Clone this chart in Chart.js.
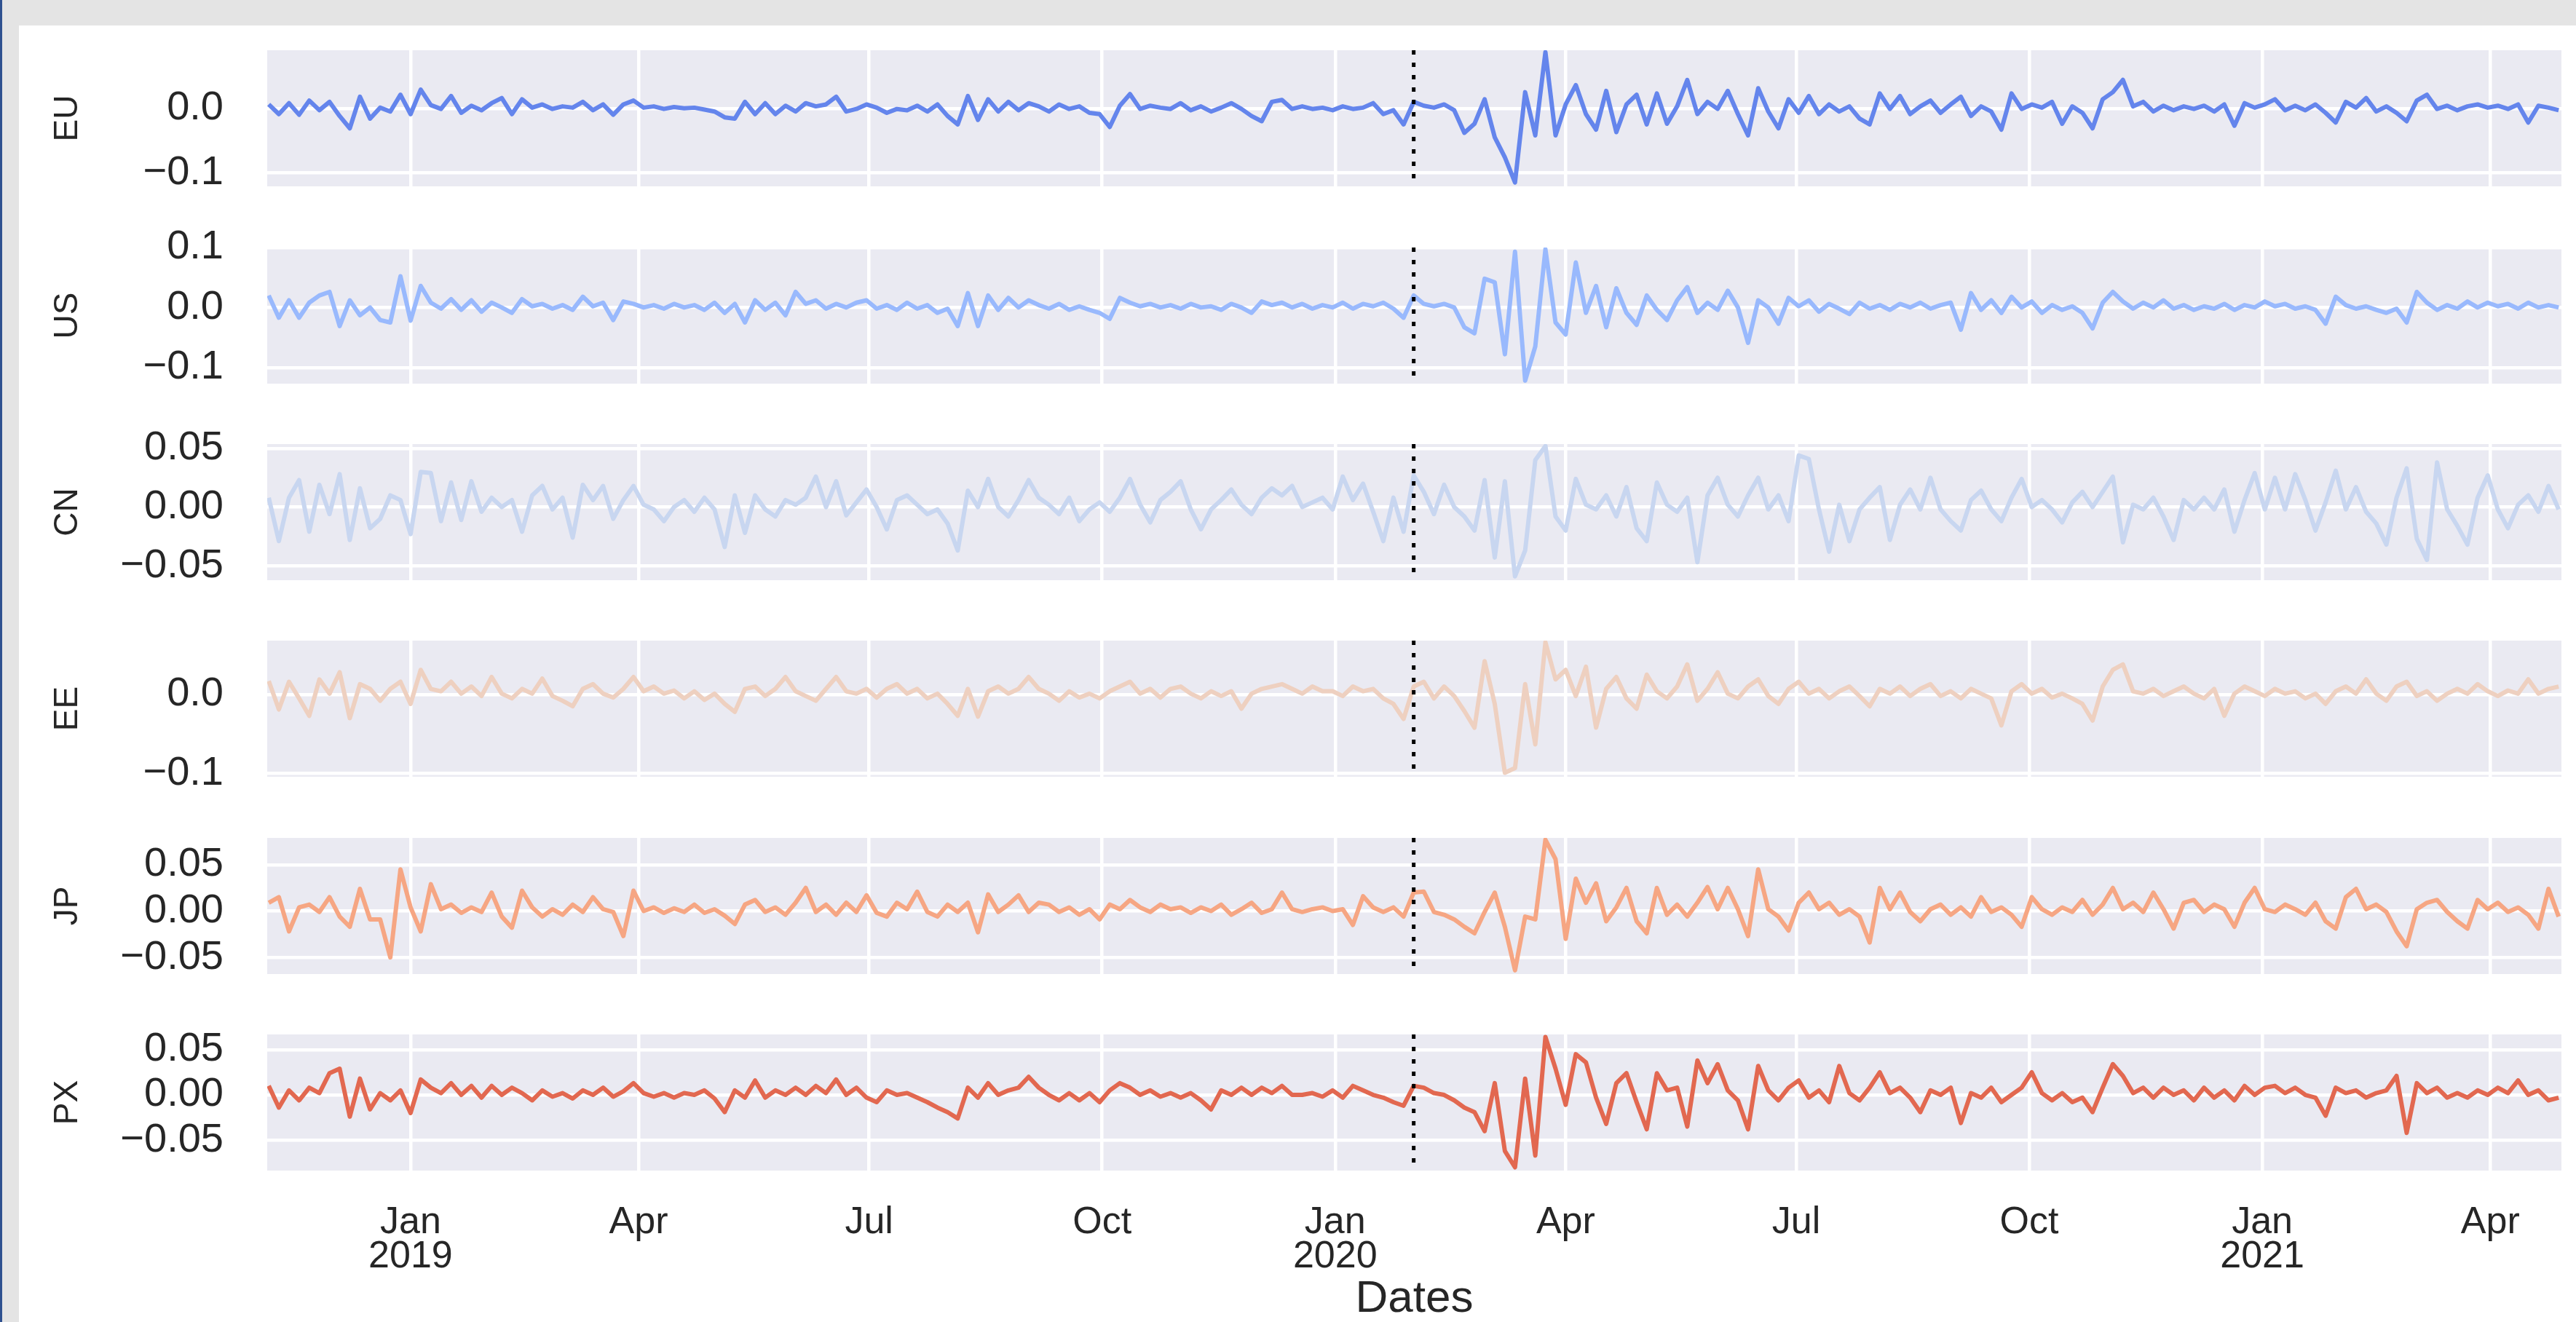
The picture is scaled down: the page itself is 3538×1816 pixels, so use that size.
<!DOCTYPE html>
<html>
<head>
<meta charset="utf-8">
<script src="https://cdn.jsdelivr.net/npm/chart.js"></script>
<style>
html, body { margin: 0; padding: 0; background: #fff; }
#frame { position: relative; width: 3538px; height: 1816px; background: #e4e4e4; overflow: hidden; }
#edge { position: absolute; left: 0; top: 0; width: 3px; height: 1816px; background: #2f5190; }
#paper { position: absolute; left: 26px; top: 35px; right: 0; bottom: 0; background: #fff; }
</style>
</head>
<body>
<div id="frame"><div id="edge"></div><div id="paper"></div></div>
<script>
// sampling of the series: one value every 4 days from 6 Nov 2018
const startDate = '2018-11-06';
const stepDays = 4;
const breakDate = '2020-02-01';

const monthTickDates = ['2019-01-01', '2019-04-01', '2019-07-01', '2019-10-01', '2020-01-01',
  '2020-04-01', '2020-07-01', '2020-10-01', '2021-01-01', '2021-04-01'];
const monthTickLabels = [['Jan', '2019'], 'Apr', 'Jul', 'Oct', ['Jan', '2020'],
  'Apr', 'Jul', 'Oct', ['Jan', '2021'], 'Apr'];
const xRangeDates = ['2018-11-05', '2021-04-29'];

const euValues = [
  .006,-.009,.008,-.01,.012,-.003,.01,-.012,-.031,.018,
  -.016,.001,-.005,.021,-.009,.029,.005,-.001,.019,-.007,
  .004,-.003,.008,.016,-.009,.014,.001,.006,-.001,.003,
  .001,.01,-.003,.006,-.01,.006,.012,.001,.003,-.001,
  .002,0,.001,-.002,-.005,-.014,-.016,.01,-.009,.008,
  -.009,.004,-.005,.008,.003,.006,.018,-.005,-.001,.006,
  .001,-.007,-.001,-.003,.004,-.005,.006,-.012,-.025,.019,
  -.018,.014,-.005,.01,-.003,.008,.003,-.005,.006,-.001,
  .003,-.007,-.009,-.029,.004,.022,-.001,.004,.001,-.001,
  .008,-.003,.003,-.005,.001,.008,-.001,-.012,-.02,.01,
  .013,-.001,.003,-.001,.001,-.003,.003,-.001,.001,.008,
  -.009,-.003,-.025,.01,
  .004,.001,.006,-.003,-.038,-.024,
  .014,-.045,-.076,-.115,.025,-.042,.087,-.042,.006,.036,
  -.009,-.033,.027,-.037,.006,.021,-.025,.023,-.024,.003,
  .044,-.009,.01,-.001,.027,-.009,-.042,.031,-.005,-.031,
  .014,-.007,.019,-.009,.006,-.005,.003,-.016,-.025,.023,
  -.001,.019,-.009,.003,.012,-.007,.006,.018,-.012,.003,
  -.005,-.033,.023,-.001,.006,.001,.01,-.024,.003,-.007,
  -.031,.014,.025,.044,.003,.01,-.005,.004,-.003,.003,
  -.001,.004,-.005,.006,-.027,.008,.001,.006,.014,-.003,
  .004,-.003,.006,-.007,-.022,.01,.001,.016,-.005,.003,
  -.007,-.02,.012,.021,-.001,.004,-.003,.003,.006,.001,
  .004,-.001,.006,-.022,.004,.001,-.003
];
const usValues = [
  .02,-.017,.012,-.017,.008,.02,.026,-.031,.012,-.013,
  0,-.021,-.025,.052,-.022,.036,.008,-.002,.014,-.004,
  .012,-.007,.008,0,-.009,.014,.002,.006,-.002,.004,
  -.004,.018,.002,.008,-.021,.01,.006,0,.004,-.002,
  .006,0,.004,-.004,.008,-.009,.006,-.025,.012,-.004,
  .008,-.013,.026,.006,.012,-.002,.006,0,.008,.012,
  -.002,.004,-.004,.008,-.002,.004,-.009,-.002,-.031,.024,
  -.031,.02,-.004,.016,0,.012,.004,-.002,.006,-.004,
  .002,-.004,-.009,-.019,.016,.008,.002,.006,0,.004,
  -.002,.006,0,.002,-.004,.006,0,-.009,.01,.004,
  .008,0,.006,-.002,.004,0,.008,-.002,.006,.002,
  .008,-.002,-.017,.02,
  .006,.002,.006,0,-.033,-.043,
  .048,.042,-.078,.093,-.122,-.065,.097,-.025,-.045,.075,
  -.009,.036,-.033,.032,-.009,-.029,.02,-.004,-.021,.012,
  .034,-.009,.008,-.004,.028,0,-.059,.012,0,-.027,
  .016,.002,.012,-.007,.006,-.002,-.011,.008,-.002,.004,
  -.004,.006,0,.008,-.002,.004,.008,-.037,.024,-.004,
  .012,-.009,.018,0,.01,-.009,.004,-.004,.002,-.009,
  -.035,.008,.026,.01,-.002,.008,0,.012,-.002,.004,
  -.004,.002,-.002,.006,-.004,.004,0,.01,.002,.006,
  -.002,.002,-.004,-.027,.018,.004,-.002,.002,-.004,-.009,
  -.002,-.025,.026,.008,-.004,.004,-.002,.01,0,.008,
  .002,.006,-.002,.008,0,.004,0
];
const cnValues = [
  .008,-.029,.008,.023,-.021,.019,-.006,.028,-.028,.016,
  -.018,-.01,.01,.006,-.023,.03,.029,-.012,.021,-.011,
  .022,-.004,.008,0,.006,-.021,.01,.018,-.002,.008,
  -.026,.019,.006,.018,-.01,.006,.018,.002,-.002,-.012,
  0,.006,-.004,.008,-.002,-.034,.01,-.022,.01,-.002,
  -.008,.006,.002,.008,.026,0,.022,-.007,.004,.015,
  0,-.019,.006,.01,.002,-.006,-.002,-.014,-.037,.014,
  0,.024,0,-.008,.006,.023,.008,.002,-.006,.008,
  -.012,-.002,.004,-.004,.008,.024,.002,-.013,.006,.013,
  .022,-.002,-.019,-.002,.006,.015,.002,-.006,.008,.016,
  .01,.018,0,.004,.008,-.002,.026,.006,.02,-.004,
  -.029,.008,-.021,.027,
  .013,-.006,.019,0,-.008,-.02,
  .023,-.043,.022,-.059,-.037,.04,.052,-.008,-.02,.024,
  .002,-.002,.01,-.008,.017,-.018,-.029,.021,.002,-.004,
  .008,-.047,.01,.025,.002,-.008,.01,.025,-.002,.01,
  -.012,.044,.041,-.002,-.038,.002,-.029,-.002,.008,.017,
  -.028,.002,.015,-.002,.025,-.002,-.012,-.02,.006,.014,
  -.002,-.012,.008,.024,0,.006,-.002,-.013,.004,.013,
  0,.013,.026,-.03,.002,-.002,.008,-.008,-.028,.006,
  -.002,.008,-.002,.015,-.021,.006,.029,-.002,.025,-.002,
  .028,.006,-.02,.004,.031,-.002,.017,-.004,-.014,-.032,
  .008,.033,-.027,-.045,.038,-.002,-.016,-.032,.008,.027,
  -.002,-.018,.002,.01,-.004,.018,-.002
];
const eeValues = [
  .017,-.019,.016,-.005,-.027,.019,.001,.028,-.03,.013,
  .007,-.008,.007,.016,-.012,.031,.007,.004,.016,.001,
  .01,-.002,.022,.001,-.005,.007,.001,.02,-.002,-.008,
  -.015,.007,.013,.001,-.004,.007,.022,.004,.01,.001,
  .005,-.005,.004,-.007,.001,-.012,-.022,.007,.01,-.002,
  .007,.022,.004,-.002,-.008,.007,.022,.004,.001,.007,
  -.004,.007,.013,.001,.007,-.005,.001,-.012,-.027,.007,
  -.028,.004,.01,.001,.007,.022,.007,.001,-.008,.004,
  -.004,.001,-.005,.004,.01,.016,.001,.007,-.004,.007,
  .01,.001,-.005,.004,-.002,.004,-.018,.001,.007,.01,
  .013,.007,.001,.01,.004,.004,-.002,.01,.004,.007,
  -.005,-.012,-.031,.01,
  .016,-.005,.01,-.002,-.021,-.042,
  .042,-.012,-.099,-.093,.013,-.063,.066,.019,.031,-.002,
  .035,-.042,.007,.022,-.005,-.018,.025,.004,-.005,.01,
  .038,-.008,.007,.028,.001,-.005,.01,.019,-.002,-.012,
  .007,.016,.001,.007,-.005,.004,.01,-.002,-.015,.007,
  .001,.01,-.002,.007,.013,-.002,.004,-.005,.007,.001,
  -.005,-.039,.004,.013,.001,.007,-.004,.001,-.005,-.012,
  -.033,.01,.031,.038,.004,.001,.007,-.002,.004,.01,
  .001,-.005,.007,-.027,.001,.01,.004,-.002,.007,.001,
  .004,-.005,.001,-.012,.004,.01,.001,.019,.001,-.008,
  .01,.016,-.002,.004,-.008,.001,.007,.001,.013,.004,
  -.002,.005,.001,.019,.001,.007,.01
];
const jpValues = [
  .009,.015,-.022,.004,.007,-.001,.015,-.006,-.017,.024,
  -.009,-.009,-.05,.045,.004,-.022,.029,.002,.007,-.002,
  .004,-.001,.02,-.006,-.018,.022,.004,-.006,.002,-.004,
  .007,-.001,.015,.002,-.001,-.027,.022,0,.004,-.002,
  .003,-.001,.007,-.002,.002,-.005,-.014,.007,.012,-.001,
  .004,-.004,.009,.025,-.001,.007,-.004,.009,-.001,.017,
  -.002,-.006,.009,.002,.021,-.001,-.006,.007,-.001,.009,
  -.023,.018,-.001,.007,.017,-.001,.009,.007,-.001,.004,
  -.004,.002,-.009,.007,.002,.012,.004,-.001,.007,.002,
  .004,-.002,.004,0,.007,-.004,.002,.009,-.002,.002,
  .02,.002,-.001,.002,.004,0,.002,-.015,.016,.004,
  -.001,.004,-.006,.02,
  .021,-.001,-.004,-.009,-.017,-.024,
  -.001,.02,-.017,-.064,-.006,-.009,.077,.056,-.03,.035,
  .009,.03,-.011,.004,.025,-.011,-.024,.025,-.004,.007,
  -.006,.009,.026,.002,.025,.002,-.027,.045,.002,-.006,
  -.021,.009,.02,.002,.009,-.004,.002,-.006,-.034,.025,
  .002,.02,-.001,-.011,.002,.007,-.004,.004,-.006,.015,
  -.001,.004,-.004,-.017,.015,.002,-.004,.004,-.001,.012,
  -.004,.007,.025,.002,.009,-.001,.02,.002,-.019,.009,
  .012,-.001,.007,.002,-.017,.009,.025,.002,-.001,.007,
  .002,-.004,.009,-.011,-.019,.015,.024,.002,.007,-.001,
  -.022,-.038,.002,.009,.012,-.001,-.011,-.019,.012,.002,
  .009,-.001,.004,-.004,-.019,.024,-.006
];
const pxValues = [
  .01,-.014,.005,-.006,.008,.002,.024,.029,-.024,.018,
  -.016,.002,-.006,.005,-.02,.017,.008,.002,.013,0,
  .01,-.003,.01,0,.008,.002,-.006,.005,-.002,.002,
  -.004,.005,0,.008,-.002,.004,.013,.002,-.002,.002,
  -.003,.002,0,.005,-.004,-.019,.005,-.003,.016,-.003,
  .005,0,.008,0,.01,.002,.017,0,.008,-.003,
  -.008,.005,0,.002,-.003,-.008,-.014,-.019,-.026,.008,
  -.003,.013,0,.005,.008,.02,.008,0,-.006,.002,
  -.006,.002,-.008,.005,.013,.008,0,.005,-.002,.002,
  -.003,.002,-.006,-.016,.005,0,.008,0,.008,.002,
  .01,0,0,.002,-.002,.005,-.003,.01,.005,0,
  -.003,-.008,-.012,.01,
  .008,.002,0,-.006,-.014,-.019,
  -.04,.013,-.062,-.08,.018,-.067,.064,.029,-.011,.045,
  .036,-.003,-.032,.013,.024,-.008,-.038,.024,.005,.008,
  -.035,.038,.013,.034,.005,-.006,-.038,.032,.005,-.006,
  .008,.016,-.003,.005,-.008,.032,.002,-.006,.008,.025,
  .002,.008,-.003,-.019,.005,0,.008,-.031,.002,-.003,
  .008,-.008,0,.008,.025,.002,-.006,.002,-.008,-.003,
  -.019,.008,.034,.021,.002,.008,-.003,.008,0,.005,
  -.006,.008,-.003,.005,-.006,.01,0,.008,.01,.002,
  .008,0,-.003,-.023,.008,.002,.005,-.003,.002,.005,
  .021,-.042,.013,.002,.008,-.003,.002,-.003,.005,0,
  .008,.002,.016,0,.005,-.006,-.003
];

// y axis limits and tick labels
const euRange = [-0.121, 0.090], euTicks = [-0.1, 0.0], euTickLabels = ['\u22120.1', '0.0'];
const usRange = [-0.127, 0.100], usTicks = [-0.1, 0.0, 0.1], usTickLabels = ['\u22120.1', '0.0', '0.1'];
const cnRange = [-0.0623, 0.0537], cnTicks = [-0.05, 0, 0.05], cnTickLabels = ['\u22120.05', '0.00', '0.05'];
const eeRange = [-0.104, 0.068], eeTicks = [-0.1, 0.0], eeTickLabels = ['\u22120.1', '0.0'];
const jpRange = [-0.068, 0.079], jpTicks = [-0.05, 0, 0.05], jpTickLabels = ['\u22120.05', '0.00', '0.05'];
const pxRange = [-0.0836, 0.0668], pxTicks = [-0.05, 0, 0.05], pxTickLabels = ['\u22120.05', '0.00', '0.05'];

const panelNames = ['EU', 'US', 'CN', 'EE', 'JP', 'PX'];

// ---------- helpers ----------
const DAY = 86400000;
const origin = Date.UTC(2019, 0, 1);
function dayOf(iso) {
  const [y, m, d] = iso.split('-').map(Number);
  return (Date.UTC(y, m - 1, d) - origin) / DAY;
}
const firstDay = dayOf(startDate);
function toPoints(values) {
  return values.map((v, i) => ({x: firstDay + i * stepDays, y: v}));
}
const breakDay = dayOf(breakDate);
const monthTickDays = monthTickDates.map(dayOf);

const panels = [
  {values: euValues, range: euRange, ticks: euTicks, labels: euTickLabels, color: '#6485ec'},
  {values: usValues, range: usRange, ticks: usTicks, labels: usTickLabels, color: '#99b9fd'},
  {values: cnValues, range: cnRange, ticks: cnTicks, labels: cnTickLabels, color: '#c8d6f0'},
  {values: eeValues, range: eeRange, ticks: eeTicks, labels: eeTickLabels, color: '#eed0c0'},
  {values: jpValues, range: jpRange, ticks: jpTicks, labels: jpTickLabels, color: '#f6a683'},
  {values: pxValues, range: pxRange, ticks: pxTicks, labels: pxTickLabels, color: '#e26850'}
];

// ---------- layout ----------
const canvasLeft = 26, plotLeft = 367, plotRight = 3518, plotHeight = 187, padY = 40;
const panelTops = [69, 340, 610, 880, 1151, 1421];
const gridColor = '#ffffff', gridWidth = 4.5, panelColor = '#eaeaf2', textColor = '#262626';

Chart.defaults.font.family = "'Liberation Sans', Arial, sans-serif";
Chart.defaults.color = textColor;

const panelBg = {
  id: 'panelBg',
  beforeDraw(chart) {
    const {ctx, chartArea: a} = chart;
    ctx.save();
    ctx.fillStyle = panelColor;
    ctx.fillRect(a.left, a.top, a.right - a.left, a.bottom - a.top);
    ctx.restore();
  }
};
const breakLine = {
  id: 'breakLine',
  afterDatasetsDraw(chart) {
    const {ctx, chartArea: a, scales} = chart;
    const x = scales.x.getPixelForValue(breakDay);
    ctx.save();
    ctx.strokeStyle = '#000';
    ctx.lineWidth = 5;
    ctx.setLineDash([6, 11]);
    ctx.beginPath();
    ctx.moveTo(x, a.top);
    ctx.lineTo(x, a.bottom);
    ctx.stroke();
    ctx.restore();
  }
};

const frame = document.getElementById('frame');

panels.forEach((p, k) => {
  const last = k === panels.length - 1;
  const top = panelTops[k] - padY;
  const h = last ? 1816 - top : plotHeight + 2 * padY;
  const cv = document.createElement('canvas');
  cv.width = 3538 - canvasLeft;
  cv.height = h;
  cv.style.cssText = 'position:absolute;left:' + canvasLeft + 'px;top:' + top + 'px;width:' + cv.width + 'px;height:' + h + 'px';
  frame.appendChild(cv);

  new Chart(cv, {
    type: 'line',
    data: {
      datasets: [{
        data: toPoints(p.values),
        borderColor: p.color,
        borderWidth: 6,
        borderJoinStyle: 'round',
        pointRadius: 0,
        tension: 0,
        fill: false
      }]
    },
    options: {
      animation: false,
      responsive: false,
      devicePixelRatio: 1,
      events: [],
      layout: {padding: {top: padY, bottom: last ? 0 : padY, left: 0, right: 3538 - plotRight}},
      plugins: {legend: {display: false}, tooltip: {enabled: false}},
      scales: {
        x: {
          type: 'linear',
          min: dayOf(xRangeDates[0]) + 0.4,
          max: dayOf(xRangeDates[1]) + 0.1,
          afterBuildTicks: s => { s.ticks = monthTickDays.map(v => ({value: v})); },
          afterFit: s => {
            s.height = last ? h - padY - plotHeight : 0;
            s.paddingLeft = 0; s.paddingRight = 0;
          },
          grid: {color: gridColor, lineWidth: gridWidth, drawTicks: false},
          border: {display: false},
          ticks: {
            display: last,
            autoSkip: false,
            maxRotation: 0,
            padding: 48,
            font: {size: 52, lineHeight: 0.9},
            callback: (v, i) => monthTickLabels[i]
          },
          title: {display: last, text: 'Dates', font: {size: 62, lineHeight: 1.0}, padding: {top: 0, bottom: 0}}
        },
        y: {
          type: 'linear',
          min: p.range[0],
          max: p.range[1],
          afterBuildTicks: s => { s.ticks = p.ticks.map(v => ({value: v})); },
          afterFit: s => {
            s.width = plotLeft - canvasLeft;
            s.paddingTop = 0; s.paddingBottom = 0;
          },
          grid: {color: gridColor, lineWidth: gridWidth, drawTicks: false},
          border: {display: false},
          ticks: {
            autoSkip: false,
            padding: 60,
            font: {size: 56},
            callback: (v, i) => p.labels[i]
          },
          title: {display: true, text: panelNames[k], font: {size: 46}, padding: {top: 40, bottom: 0}}
        }
      }
    },
    plugins: [panelBg, breakLine]
  });
});
</script>
</body>
</html>
